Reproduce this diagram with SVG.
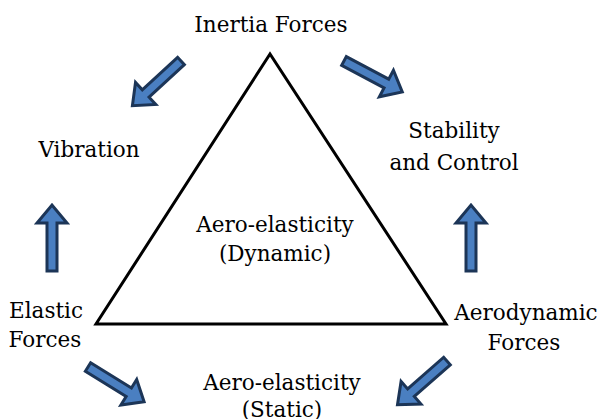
<svg xmlns="http://www.w3.org/2000/svg" width="599" height="419" viewBox="0 0 599 419">
<style>
  .lbl { font-family: "DejaVu Serif", "Liberation Serif", serif; font-size: 21.5px; fill: #000; text-anchor: middle; }
  .arr { fill: #4a7fc1; stroke: #1c3557; stroke-width: 3; stroke-linejoin: miter; }
  .tri { fill: none; stroke: #000; stroke-width: 3; stroke-linejoin: miter; }
</style>
<defs>
  <path id="bigArrow" d="M0,-5 L48,-5 L48,-15 L66,0 L48,15 L48,5 L0,5 Z"/>
</defs>
<rect width="599" height="419" fill="#fff"/>
<g id="triangle">
  <polygon class="tri" points="270,54 96,324 446,324"/>
</g>
<g id="connectors">
  <use href="#bigArrow" class="arr" transform="translate(181,61) rotate(137.4)"/>
  <use href="#bigArrow" class="arr" transform="translate(344,61) rotate(28)"/>
  <use href="#bigArrow" class="arr" transform="translate(52,271) rotate(-90)"/>
  <use href="#bigArrow" class="arr" transform="translate(471,271) rotate(-90)"/>
  <use href="#bigArrow" class="arr" transform="translate(88,367) rotate(31.8)"/>
  <use href="#bigArrow" class="arr" transform="translate(447,361) rotate(138.6)"/>
</g>
<g id="inertia"><text class="lbl" x="271" y="32">Inertia Forces</text></g>
<g id="vibration"><text class="lbl" x="89" y="157">Vibration</text></g>
<g id="stability"><text class="lbl" x="454" y="138">Stability</text><text class="lbl" x="454" y="170">and Control</text></g>
<g id="dynamic"><text class="lbl" x="275" y="232">Aero-elasticity</text><text class="lbl" x="275" y="261">(Dynamic)</text></g>
<g id="elastic"><text class="lbl" x="46" y="318">Elastic</text><text class="lbl" x="45" y="347">Forces</text></g>
<g id="aerodynamic"><text class="lbl" x="526" y="320">Aerodynamic</text><text class="lbl" x="524" y="350">Forces</text></g>
<g id="static"><text class="lbl" x="282" y="390">Aero-elasticity</text><text class="lbl" x="282" y="417">(Static)</text></g>
</svg>
